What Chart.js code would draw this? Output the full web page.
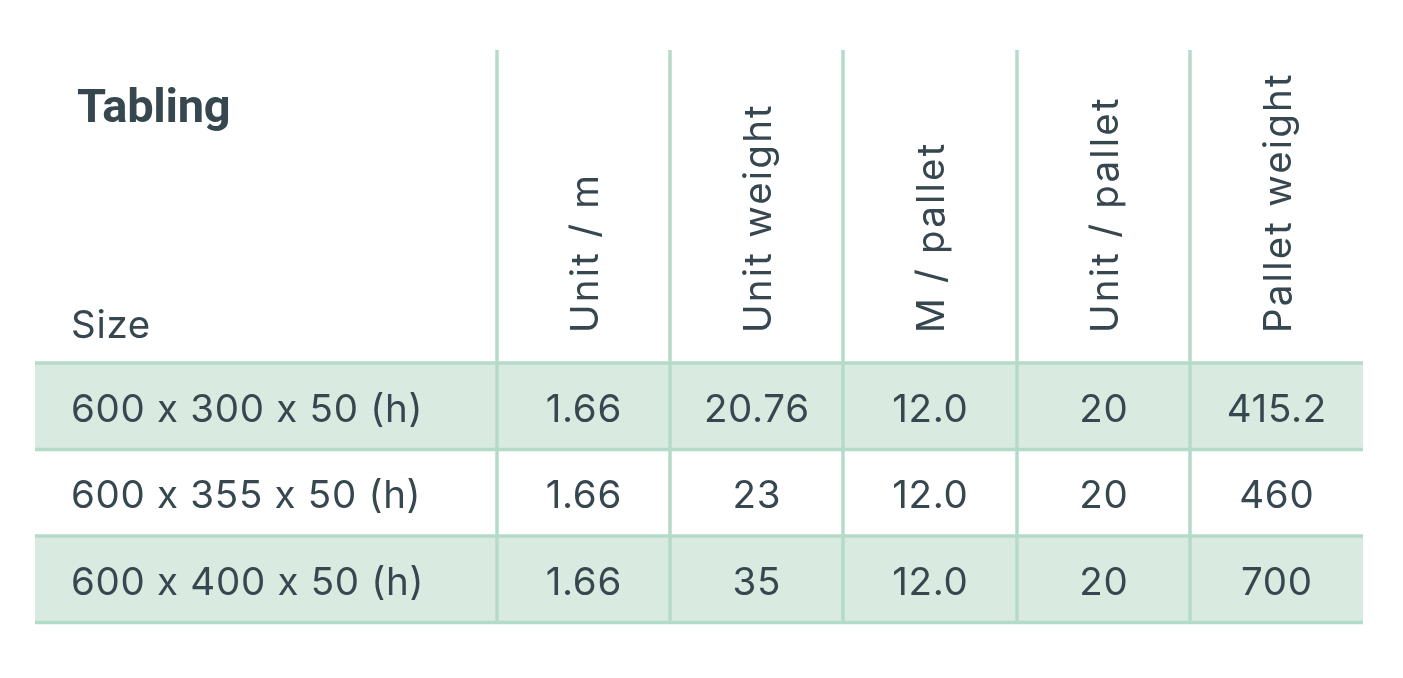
<!DOCTYPE html>
<html><head><meta charset="utf-8">
<script src="https://cdn.jsdelivr.net/npm/chart.js@4/dist/chart.umd.min.js"></script>
<style>html,body{margin:0;padding:0;background:#fff;}#wrap{width:1403px;height:678px;position:relative;}</style>
</head><body><div id="wrap"><canvas id="c"></canvas></div>
<script>
// ---- data ----
const title = 'Tabling';
const rowHeader = 'Size';
const sizes = ['600 x 300 x 50 (h)', '600 x 355 x 50 (h)', '600 x 400 x 50 (h)'];
const columnHeaders = ['Unit / m', 'Unit weight', 'M / pallet', 'Unit / pallet', 'Pallet weight'];
const unitPerM = [1.66, 1.66, 1.66];
const unitWeight = [20.76, 23, 35];
const mPerPallet = [12.0, 12.0, 12.0];
const unitPerPallet = [20, 20, 20];
const palletWeight = [415.2, 460, 700];
const shadedRows = [true, false, true];

// ---- layout / style ----
const colSpans = [462, 173, 173, 174, 173, 173];
const TOTAL = colSpans.reduce((a, b) => a + b, 0);
const HEADER_TOP = 50;
const TEXT = '#37474f';
const LINE = '#b4dac8';
const SHADE = '#d9eae1';
const VALUE_FONT = '400 38.5px Inter';
const VALUE_LS = 0.7;
const HEAD_FONT = '400 38.5px Inter';
const HEAD_LS = 2.2;
const TITLE_FONT = '700 47px Roboto';

const columns = [
  unitPerM.map(v => v.toFixed(2)),
  unitWeight.map(v => String(v)),
  mPerPallet.map(v => v.toFixed(1)),
  unitPerPallet.map(v => String(v)),
  palletWeight.map(v => String(v))
];

const tablePlugin = {
  id: 'tablePlugin',
  afterDatasetsDraw(chart) {
    const { ctx, chartArea, scales: { x, y } } = chart;
    const edges = [0];
    colSpans.forEach(w => edges.push(edges[edges.length - 1] + w));
    const px = edges.map(e => x.getPixelForValue(e));
    const rowH = y.getPixelForValue(1) - y.getPixelForValue(0);
    ctx.save();
    // grid lines
    ctx.strokeStyle = LINE;
    ctx.lineWidth = 3.5;
    for (let k = 1; k < px.length - 1; k++) {
      ctx.beginPath(); ctx.moveTo(px[k], HEADER_TOP); ctx.lineTo(px[k], chartArea.bottom); ctx.stroke();
    }
    for (let i = 0; i <= sizes.length; i++) {
      const yy = y.getPixelForValue(0) - rowH / 2 + i * rowH;
      ctx.beginPath(); ctx.moveTo(px[0], yy); ctx.lineTo(px[px.length - 1], yy); ctx.stroke();
    }
    ctx.fillStyle = TEXT;
    ctx.textBaseline = 'alphabetic';
    // title + row header
    ctx.font = TITLE_FONT; ctx.textAlign = 'left';
    ctx.letterSpacing = '-0.3px';
    ctx.fillText(title, px[0] + 42, 122);
    ctx.font = VALUE_FONT;
    ctx.letterSpacing = VALUE_LS + 'px';
    ctx.fillText(rowHeader, px[0] + 36, 338);
    // column headers (rotated)
    ctx.font = HEAD_FONT;
    ctx.letterSpacing = HEAD_LS + 'px';
    columnHeaders.forEach((h, k) => {
      const cx = (px[k + 1] + px[k + 2]) / 2;
      ctx.save();
      ctx.translate(cx, 333);
      ctx.rotate(-Math.PI / 2);
      ctx.textAlign = 'left';
      ctx.fillText(h, 0, 14);
      ctx.restore();
    });
    // rows
    ctx.font = VALUE_FONT;
    ctx.letterSpacing = VALUE_LS + 'px';
    sizes.forEach((s, i) => {
      const cy = y.getPixelForValue(i) + 15.5;
      ctx.textAlign = 'left';
      ctx.fillText(s, px[0] + 36, cy);
      ctx.textAlign = 'center';
      columns.forEach((col, k) => {
        const cx = (px[k + 1] + px[k + 2]) / 2 + VALUE_LS / 2;
        ctx.fillText(col[i], cx, cy);
      });
    });
    ctx.restore();
  }
};

new Chart(document.getElementById('c'), {
  type: 'bar',
  data: {
    labels: sizes,
    datasets: [{
      data: shadedRows.map(s => s ? [0, TOTAL] : null),
      backgroundColor: SHADE,
      borderWidth: 0,
      barPercentage: 1,
      categoryPercentage: 1
    }]
  },
  options: {
    indexAxis: 'y',
    responsive: true,
    maintainAspectRatio: false,
    animation: false,
    layout: { padding: { left: 35, right: 40, top: 363, bottom: 55.5 } },
    plugins: { legend: { display: false }, tooltip: { enabled: false } },
    scales: {
      x: { type: 'linear', min: 0, max: TOTAL, display: false },
      y: { type: 'category', offset: true, display: false }
    }
  },
  plugins: [tablePlugin]
});
</script>
</body></html>
